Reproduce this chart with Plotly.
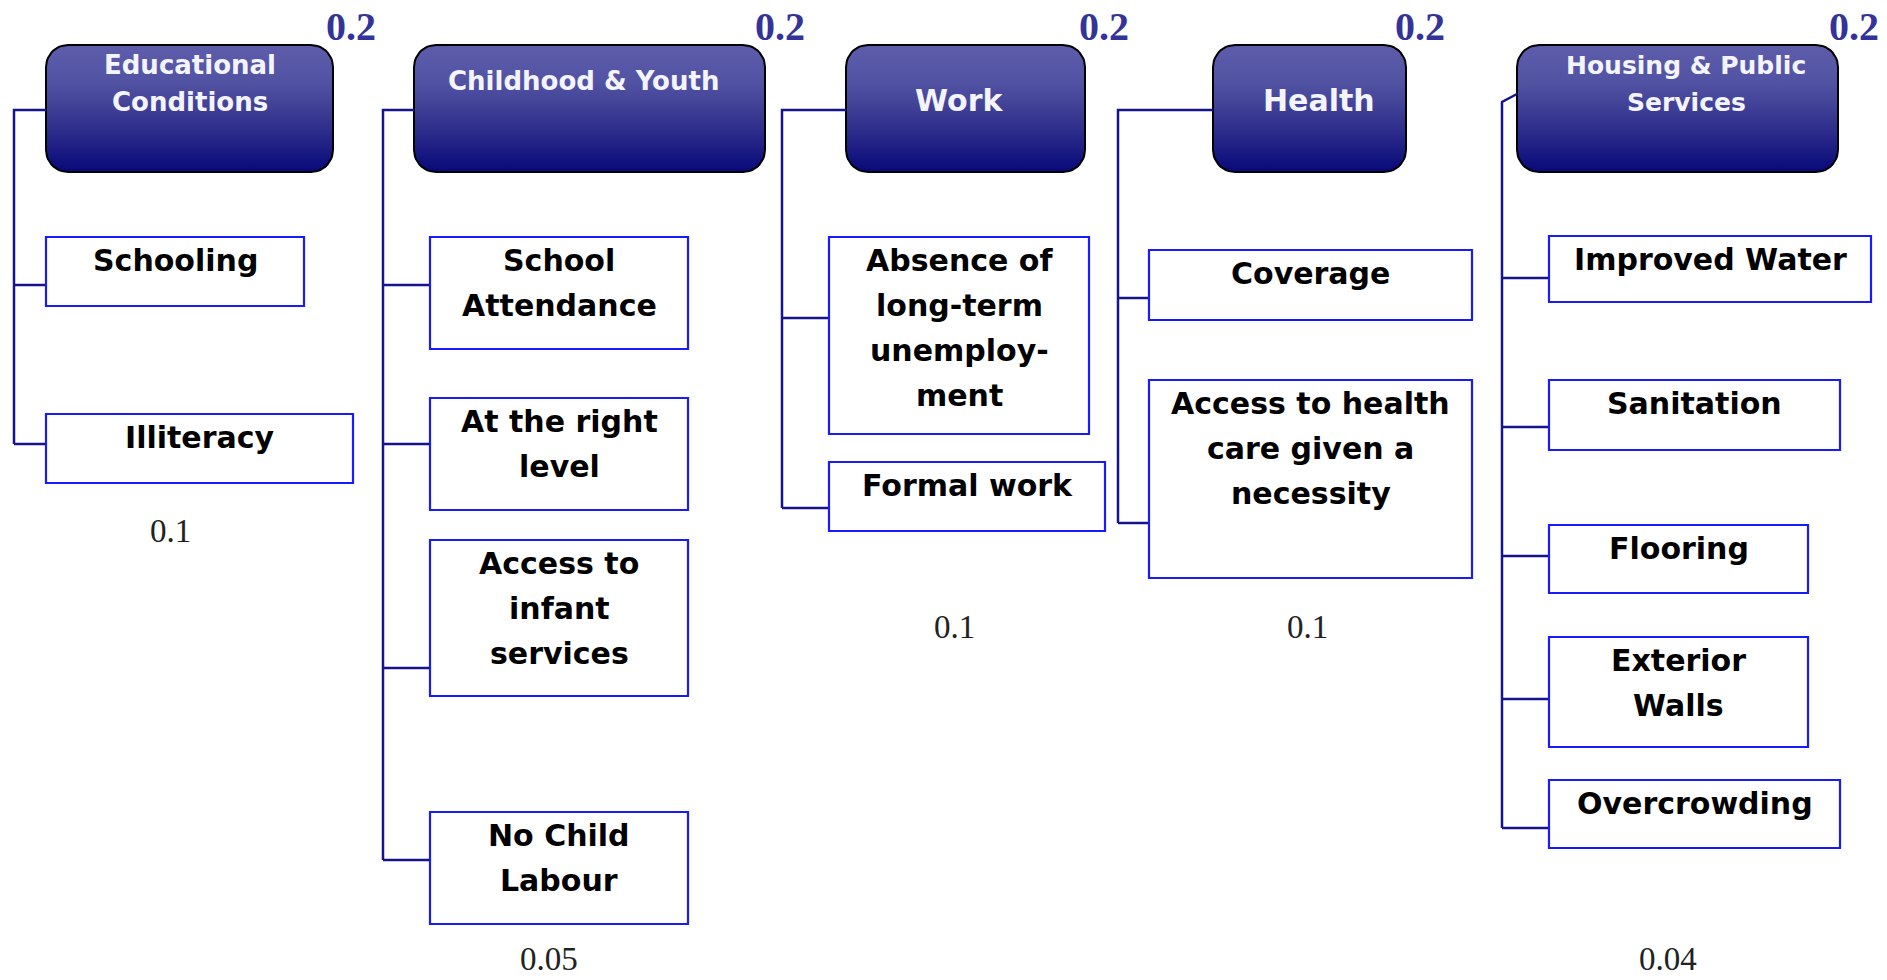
import numpy as np
import plotly.graph_objects as go

# ---------------- data ----------------
dimensions = ["Educational\nConditions", "Childhood & Youth", "Work", "Health",
              "Housing & Public\nServices"]
dimension_weights = [0.2, 0.2, 0.2, 0.2, 0.2]
indicators = [
    ["Schooling", "Illiteracy"],
    ["School\nAttendance", "At the right\nlevel", "Access to\ninfant\nservices", "No Child\nLabour"],
    ["Absence of\nlong-term\nunemploy-\nment", "Formal work"],
    ["Coverage", "Access to health\ncare given a\nnecessity"],
    ["Improved Water", "Sanitation", "Flooring", "Exterior\nWalls", "Overcrowding"],
]
indicator_weights = [0.1, 0.05, 0.1, 0.1, 0.04]

# ---------------- layout geometry (window pixels) ----------------
W, H = 1887, 980
header_x = [(46, 333), (414, 765), (846, 1085), (1213, 1406), (1517, 1838)]
header_y = (45, 172)
header_text_x = [190, 583, 959, 1319, 1686]
header_text_y = [65, 81, 100, 100, 65]
header_font = [26, 26, 30, 30, 25]
header_line_gap = 37
spine_x = [14, 383, 782, 1118, 1502]
header_join_y = [110, 110, 110, 110, 94]
spine_top = [110, 110, 110, 110, 102]
boxes = [
    [(46, 304, 237, 306), (46, 353, 414, 483)],
    [(430, 688, 237, 349), (430, 688, 398, 510), (430, 688, 540, 696), (430, 688, 812, 924)],
    [(829, 1089, 237, 434), (829, 1105, 462, 531)],
    [(1149, 1472, 250, 320), (1149, 1472, 380, 578)],
    [(1549, 1871, 236, 302), (1549, 1840, 380, 450), (1549, 1808, 525, 593),
     (1549, 1808, 637, 747), (1549, 1840, 780, 848)],
]
branch_y = [[285, 444], [285, 444, 668, 860], [318, 508], [298, 523], [278, 427, 556, 699, 828]]
dim_weight_pos = [(351, 26), (780, 26), (1104, 26), (1420, 26), (1854, 26)]
ind_weight_pos = [(170, 531), (549, 959), (954, 627), (1307, 627), (1668, 959)]
text_offset = 23.5
line_gap = 45

NAVY = "#14148c"
BOX_BLUE = "#1a1aff"
WEIGHT_BLUE = "#333399"


def rounded_rect(x0, x1, y0, y1, r, n=12):
    xs, ys = [], []
    corners = [(x1 - r, y0 + r, -90, 0), (x1 - r, y1 - r, 0, 90),
               (x0 + r, y1 - r, 90, 180), (x0 + r, y0 + r, 180, 270)]
    for cx, cy, a0, a1 in corners:
        for a in np.linspace(np.radians(a0), np.radians(a1), n):
            xs.append(cx + r * np.cos(a))
            ys.append(cy + r * np.sin(a))
    xs.append(xs[0]); ys.append(ys[0])
    return xs, ys


fig = go.Figure()
shapes = []
annotations = []

for i, name in enumerate(dimensions):
    hx0, hx1 = header_x[i]
    hy0, hy1 = header_y
    xs, ys = rounded_rect(hx0, hx1, hy0, hy1, 22)
    fig.add_trace(go.Scatter(
        x=xs, y=ys, mode="lines", fill="toself",
        line=dict(color="#000000", width=2),
        fillgradient=dict(type="vertical", start=hy0, stop=hy1,
                          colorscale=[[0, "#5d5dab"], [0.3, "#5252a3"], [0.6, "#35358f"],
                                      [1, "#08087a"]]),
        hoverinfo="skip", showlegend=False))
    for k, line in enumerate(name.split("\n")):
        annotations.append(dict(x=header_text_x[i], y=header_text_y[i] + k * header_line_gap,
                                text=line, showarrow=False, xanchor="center", yanchor="middle",
                                font=dict(family="DejaVu Sans", size=header_font[i],
                                          color="#f4f4ff", weight=700)))
    # dimension weight
    wx, wy = dim_weight_pos[i]
    annotations.append(dict(x=wx, y=wy, text=f"{dimension_weights[i]:g}", showarrow=False,
                            xanchor="center", yanchor="middle",
                            font=dict(family="Liberation Serif", size=40, color=WEIGHT_BLUE,
                                      weight=700)))
    # connectors
    sx = spine_x[i]
    last = branch_y[i][-1]
    shapes.append(dict(type="path",
                       path=f"M {hx0},{header_join_y[i]} L {sx},{spine_top[i]} L {sx},{last}",
                       line=dict(color=NAVY, width=2.5)))
    for j, label in enumerate(indicators[i]):
        bx0, bx1, by0, by1 = boxes[i][j]
        by = branch_y[i][j]
        shapes.append(dict(type="line", x0=sx, x1=bx0, y0=by, y1=by,
                           line=dict(color=NAVY, width=2.5)))
        shapes.append(dict(type="rect", x0=bx0, x1=bx1, y0=by0, y1=by1,
                           fillcolor="white", line=dict(color=BOX_BLUE, width=2.2)))
        bcx = (bx0 + bx1) / 2
        for k, line in enumerate(label.split("\n")):
            annotations.append(dict(x=bcx, y=by0 + text_offset + k * line_gap, text=line,
                                    showarrow=False, xanchor="center", yanchor="middle",
                                    font=dict(family="DejaVu Sans", size=30, color="#000000",
                                              weight=700)))
    # indicator weight
    ix, iy = ind_weight_pos[i]
    annotations.append(dict(x=ix, y=iy, text=f"{indicator_weights[i]:g}", showarrow=False,
                            xanchor="center", yanchor="middle",
                            font=dict(family="Liberation Serif", size=33, color="#222222")))

fig.update_layout(
    width=W, height=H,
    margin=dict(l=0, r=0, t=0, b=0),
    paper_bgcolor="white", plot_bgcolor="white",
    xaxis=dict(range=[0, W], visible=False, fixedrange=True),
    yaxis=dict(range=[H, 0], visible=False, fixedrange=True),
    shapes=shapes, annotations=annotations, showlegend=False,
)

fig.write_html(
    "out.html",
    config={"displayModeBar": False},
    post_script="document.body.style.margin='0';document.body.style.overflow='hidden';",
)
